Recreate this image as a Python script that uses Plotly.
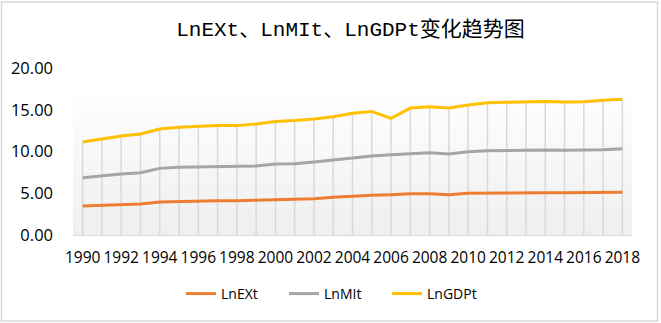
import plotly.graph_objects as go

years = list(range(1990, 2019))
ln_ex = [3.47, 3.55, 3.60, 3.71, 3.95, 4.03, 4.03, 4.11, 4.11, 4.15, 4.23, 4.27, 4.35,
         4.51, 4.67, 4.75, 4.83, 4.95, 4.95, 4.83, 4.99, 5.03, 5.03, 5.07, 5.07, 5.07,
         5.07, 5.11, 5.11]
ln_mi = [6.86, 7.10, 7.30, 7.46, 7.98, 8.10, 8.14, 8.18, 8.18, 8.26, 8.50, 8.54, 8.74,
         8.98, 9.30, 9.46, 9.62, 9.78, 9.86, 9.70, 9.98, 10.10, 10.14, 10.18, 10.18, 10.14,
         10.14, 10.22, 10.34]
ln_gdp = [11.14, 11.53, 11.86, 12.10, 12.70, 12.90, 13.00, 13.10, 13.10, 13.30, 13.60, 13.70, 13.90,
          14.17, 14.57, 14.80, 13.97, 15.20, 15.37, 15.20, 15.57, 15.85, 15.90, 15.97, 16.00, 15.93,
          15.97, 16.13, 16.25]
tick_years = list(range(1990, 2019, 2))
y_ticks = [0, 5, 10, 15, 20]

W, H = 661, 323
L, R, T, B = 73, 29, 68, 88
pw, ph = W - L - R, H - T - B

fig = go.Figure()

# drop lines from the highest series down to the axis
fig.add_trace(go.Scatter(
    x=years, y=ln_gdp, mode="markers", marker=dict(size=0.1, color="rgba(0,0,0,0)"),
    error_y=dict(type="data", symmetric=False, array=[0] * len(ln_gdp), arrayminus=ln_gdp,
                 color="#d9d9d9", thickness=1.5, width=0),
    showlegend=False, hoverinfo="skip"))

for name, vals, col in [("LnEXt", ln_ex, "#ED7D31"), ("LnMIt", ln_mi, "#A5A5A5"),
                        ("LnGDPt", ln_gdp, "#FFC000")]:
    fig.add_trace(go.Scatter(x=years, y=vals, mode="lines", name=name,
                             line=dict(color=col, width=3)))

shapes = []
# gradient background of plot area
n = 24
top = 16.5
for i in range(n):
    y0 = top * i / n
    y1 = top * (i + 1) / n
    f = i / (n - 1)
    c0, c1 = 0xEF, 0xFD
    v = int(round(c0 + (c1 - c0) * f))
    shapes.append(dict(type="rect", xref="x domain", yref="y", x0=0, x1=1, y0=y0, y1=y1,
                       fillcolor=f"rgb({v},{v},{v})", line=dict(width=0), layer="below"))
# outer border
shapes.append(dict(type="rect", xref="paper", yref="paper",
                   x0=(1.5 - L) / pw, x1=(W - 3.5 - L) / pw,
                   y0=(H - B - 321.0) / ph, y1=(H - B - 2.0) / ph,
                   line=dict(color="#d9d9d9", width=1.5), fillcolor="rgba(0,0,0,0)"))

fig.update_layout(
    width=W, height=H,
    margin=dict(l=L, r=R, t=T, b=B, autoexpand=False),
    paper_bgcolor="white", plot_bgcolor="white",
    title=dict(text="LnEXt、LnMIt、LnGDPt变化趋势图", x=350.5 / W, xanchor="center",
               y=1 - 29 / H, yanchor="middle",
               font=dict(family="Courier New, Liberation Mono, Noto Sans CJK SC", size=21,
                         color="#000000")),
    font=dict(family="Open Sans", size=16, color="#000000"),
    showlegend=True,
    legend=dict(orientation="h", x=(181 - L) / pw, xanchor="left",
                y=(H - B - 294) / ph, yanchor="middle",
                entrywidth=58, entrywidthmode="pixels",
                font=dict(family="Open Sans", size=14, color="#000000"),
                bgcolor="rgba(0,0,0,0)"),
    shapes=shapes,
)
fig.update_xaxes(range=[1989.5, 2018.5], tickmode="array", tickvals=tick_years,
                 ticktext=[str(y) for y in tick_years], tickangle=0, automargin=False,
                 showgrid=False, zeroline=False, showline=True, linecolor="#d9d9d9", linewidth=1,
                 ticks="", ticklabelstandoff=8, tickfont=dict(size=15.5))
fig.update_yaxes(range=[0, 20], tickmode="array", tickvals=y_ticks, tickformat=".2f",
                 showgrid=False, zeroline=False, showline=False, ticks="", automargin=False,
                 ticklabelstandoff=19, tickfont=dict(size=16.5))

fig.write_html("out.html", config={"displayModeBar": False},
               post_script="document.body.style.margin='0';")
